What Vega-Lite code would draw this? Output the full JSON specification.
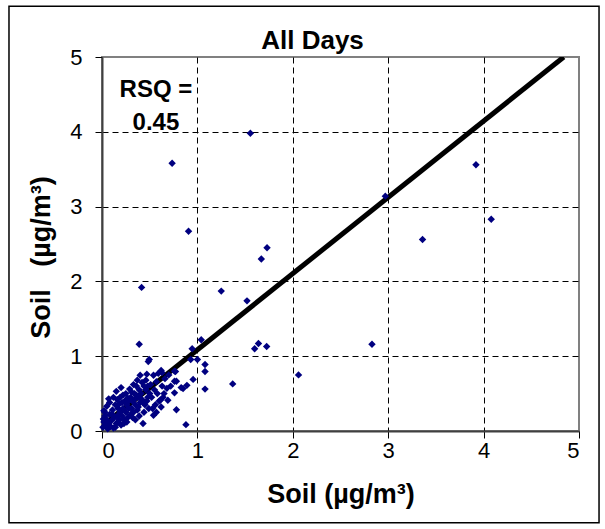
{
  "$schema": "https://vega.github.io/schema/vega-lite/v6.json",
  "width": 477,
  "height": 374,
  "autosize": "none",
  "padding": {"left": 102, "top": 57, "right": 26, "bottom": 98},
  "background": "white",
  "config": {
    "view": {"stroke": "#808080", "strokeWidth": 2},
    "font": "Liberation Sans"
  },
  "title": {
    "text": "All Days",
    "font": "Liberation Sans",
    "fontSize": 26,
    "fontWeight": "bold",
    "color": "#000000",
    "anchor": "middle",
    "baseline": "alphabetic",
    "dx": -28,
    "offset": -70
  },
  "datasets": {
    "pts": [
      {"x":0.01,"y":0.05},{"x":0.02,"y":0.12},{"x":0.03,"y":0.2},{"x":0.02,"y":0.27},{"x":0.04,"y":0.08},
      {"x":0.05,"y":0.15},{"x":0.06,"y":0.03},{"x":0.07,"y":0.1},{"x":0.08,"y":0.22},{"x":0.05,"y":0.33},
      {"x":0.03,"y":0.25},{"x":0.09,"y":0.06},{"x":0.1,"y":0.14},{"x":0.12,"y":0.04},{"x":0.11,"y":0.28},
      {"x":0.07,"y":0.43},{"x":0.08,"y":0.38},{"x":0.015,"y":0.16},{"x":0.14,"y":0.05},{"x":0.13,"y":0.18},
      {"x":0.15,"y":0.53},{"x":0.2,"y":0.58},{"x":0.15,"y":0.1},{"x":0.16,"y":0.2},{"x":0.17,"y":0.3},
      {"x":0.18,"y":0.15},{"x":0.19,"y":0.25},{"x":0.14,"y":0.35},{"x":0.16,"y":0.42},{"x":0.19,"y":0.45},
      {"x":0.2,"y":0.08},{"x":0.18,"y":0.36},{"x":0.12,"y":0.45},{"x":0.11,"y":0.22},{"x":0.17,"y":0.12},
      {"x":0.21,"y":0.2},{"x":0.22,"y":0.3},{"x":0.23,"y":0.15},{"x":0.24,"y":0.4},{"x":0.25,"y":0.25},
      {"x":0.26,"y":0.35},{"x":0.27,"y":0.18},{"x":0.28,"y":0.3},{"x":0.29,"y":0.56},{"x":0.22,"y":0.48},
      {"x":0.25,"y":0.5},{"x":0.27,"y":0.44},{"x":0.3,"y":0.22},{"x":0.23,"y":0.1},{"x":0.26,"y":0.12},
      {"x":0.28,"y":0.4},{"x":0.3,"y":0.45},{"x":0.21,"y":0.38},
      {"x":0.31,"y":0.3},{"x":0.32,"y":0.4},{"x":0.33,"y":0.25},{"x":0.34,"y":0.5},{"x":0.35,"y":0.35},
      {"x":0.36,"y":0.6},{"x":0.37,"y":0.28},{"x":0.38,"y":0.45},{"x":0.39,"y":0.55},{"x":0.4,"y":0.38},
      {"x":0.32,"y":0.18},{"x":0.35,"y":0.15},{"x":0.33,"y":0.62},{"x":0.36,"y":0.48},{"x":0.38,"y":0.32},
      {"x":0.4,"y":0.745},{"x":0.34,"y":0.42},{"x":0.31,"y":0.52},{"x":0.37,"y":0.68},{"x":0.39,"y":0.2},
      {"x":0.41,"y":0.5},{"x":0.42,"y":0.42},{"x":0.43,"y":0.1},{"x":0.44,"y":0.6},{"x":0.45,"y":0.35},
      {"x":0.46,"y":0.55},{"x":0.47,"y":0.76},{"x":0.48,"y":0.45},{"x":0.49,"y":0.3},{"x":0.485,"y":0.93},
      {"x":0.42,"y":0.65},{"x":0.44,"y":0.25},{"x":0.46,"y":0.68},{"x":0.48,"y":0.6},{"x":0.5,"y":0.5},
      {"x":0.43,"y":0.38},{"x":0.47,"y":0.4},
      {"x":0.51,"y":0.62},{"x":0.52,"y":0.45},{"x":0.54,"y":0.745},{"x":0.54,"y":0.21},{"x":0.55,"y":0.55},
      {"x":0.56,"y":0.35},{"x":0.57,"y":0.66},{"x":0.58,"y":0.5},{"x":0.59,"y":0.77},{"x":0.6,"y":0.4},
      {"x":0.53,"y":0.3},{"x":0.57,"y":0.25},
      {"x":0.61,"y":0.41},{"x":0.62,"y":0.32},{"x":0.62,"y":0.81},{"x":0.63,"y":0.78},{"x":0.63,"y":0.6},
      {"x":0.65,"y":0.5},{"x":0.66,"y":0.7},{"x":0.68,"y":0.57},{"x":0.69,"y":0.41},{"x":0.64,"y":0.45},
      {"x":0.76,"y":0.8},{"x":0.77,"y":0.795},{"x":0.76,"y":0.665},{"x":0.78,"y":0.665},{"x":0.76,"y":0.51},
      {"x":0.78,"y":0.285},{"x":0.83,"y":0.58},{"x":0.85,"y":0.567},{"x":0.89,"y":0.61},{"x":0.88,"y":0.085},
      {"x":0.955,"y":0.69},{"x":0.93,"y":0.955},{"x":1.0,"y":0.955},{"x":0.945,"y":1.1},{"x":1.04,"y":1.22},
      {"x":1.08,"y":0.89},{"x":1.08,"y":0.795},{"x":1.08,"y":0.56},{"x":0.72,"y":0.6},{"x":0.7,"y":0.75},
      {"x":0.39,"y":1.16},{"x":0.415,"y":1.92},{"x":0.495,"y":0.955},{"x":0.735,"y":3.58},{"x":0.907,"y":2.67},
      {"x":1.25,"y":1.87},{"x":1.52,"y":1.74},{"x":1.555,"y":3.98},{"x":1.67,"y":2.3},{"x":1.73,"y":2.45},
      {"x":1.6,"y":1.1},{"x":1.64,"y":1.17},{"x":1.726,"y":1.13},{"x":1.37,"y":0.63},{"x":2.06,"y":0.75},
      {"x":2.83,"y":1.16},{"x":2.97,"y":3.14},{"x":3.36,"y":2.56},{"x":3.92,"y":3.56},{"x":4.08,"y":2.83}
    ],
    "fit": [{"x": 0, "y": 0.066}, {"x": 4.84, "y": 5.0}]
  },
  "encoding": {
    "x": {
      "type": "quantitative",
      "scale": {"domain": [0, 5], "nice": false, "zero": false},
      "title": "Soil (µg/m³)",
      "axis": {
        "values": [0, 1, 2, 3, 4, 5],
        "format": "d",
        "grid": true,
        "gridDash": [6, 4],
        "gridColor": "#000000",
        "gridWidth": 1,
        "gridOpacity": {"condition": {"test": "datum.value === 0 || datum.value === 5", "value": 0}, "value": 1},
        "domainColor": "#404040",
        "domainWidth": 2,
        "tickColor": "#000000",
        "tickSize": 7,
        "tickWidth": 1,
        "labelFont": "Liberation Sans",
        "labelFontSize": 22,
        "labelColor": "#000000",
        "labelPadding": 2,
        "titleFont": "Liberation Sans",
        "titleFontSize": 27,
        "titleFontWeight": "bold",
        "titleColor": "#000000",
        "titlePadding": 20
      }
    },
    "y": {
      "type": "quantitative",
      "scale": {"domain": [0, 5], "nice": false, "zero": false},
      "title": "Soil\u00a0\u00a0\u00a0(µg/m³)",
      "axis": {
        "values": [0, 1, 2, 3, 4, 5],
        "format": "d",
        "grid": true,
        "gridDash": [6, 4],
        "gridColor": "#000000",
        "gridWidth": 1,
        "gridOpacity": {"condition": {"test": "datum.value === 0 || datum.value === 5", "value": 0}, "value": 1},
        "domainColor": "#404040",
        "domainWidth": 2,
        "tickColor": "#000000",
        "tickSize": 7,
        "tickWidth": 1,
        "labelFont": "Liberation Sans",
        "labelFontSize": 22,
        "labelColor": "#000000",
        "labelPadding": 13,
        "titleFont": "Liberation Sans",
        "titleFontSize": 27,
        "titleFontWeight": "bold",
        "titleColor": "#000000",
        "titleAngle": -90,
        "titleAlign": "center",
        "titleBaseline": "middle",
        "titleX": -61,
        "titleY": 200
      }
    }
  },
  "layer": [
    {
      "data": {"values": [{}]},
      "mark": {"type": "rect", "fill": "#ffffff", "fillOpacity": 0, "stroke": "#000000", "strokeWidth": 1.5, "clip": false},
      "encoding": {
        "x": {"datum": -0.975, "type": "quantitative"},
        "x2": {"datum": 5.21},
        "y": {"datum": 5.68, "type": "quantitative"},
        "y2": {"datum": -1.225}
      }
    },
    {
      "data": {"name": "fit"},
      "mark": {"type": "line", "color": "#000000", "strokeWidth": 5, "clip": true},
      "encoding": {
        "x": {"field": "x", "type": "quantitative"},
        "y": {"field": "y", "type": "quantitative"}
      }
    },
    {
      "data": {"name": "pts"},
      "mark": {"type": "point", "shape": "diamond", "filled": true, "color": "#000080", "size": 55, "opacity": 1},
      "encoding": {
        "x": {"field": "x", "type": "quantitative"},
        "y": {"field": "y", "type": "quantitative"}
      }
    },
    {
      "data": {"values": [{}]},
      "mark": {"type": "text", "font": "Liberation Sans", "fontSize": 24, "fontWeight": "bold", "color": "#000000", "align": "center", "baseline": "alphabetic", "lineHeight": 33},
      "encoding": {
        "x": {"datum": 0.565, "type": "quantitative"},
        "y": {"datum": 4.46, "type": "quantitative"},
        "text": {"value": ["RSQ =", "0.45"]}
      }
    }
  ]
}
